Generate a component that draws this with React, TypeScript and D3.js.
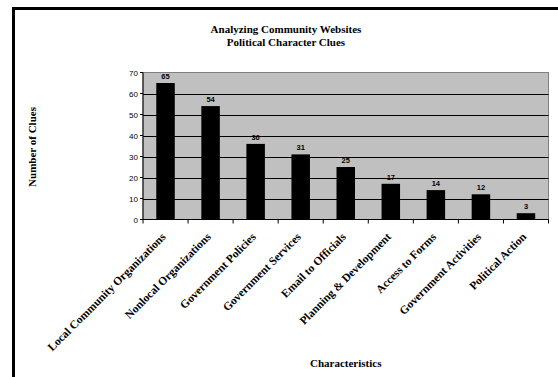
import React from "react";
import * as d3 from "d3";

const categories = [
  "Local Community Organizations",
  "Nonlocal Organizations",
  "Government Policies",
  "Government Services",
  "Email to Officials",
  "Planning & Development",
  "Access to Forms",
  "Government Activities",
  "Political Action",
];
const clues = [65, 54, 36, 31, 25, 17, 14, 12, 3];
const yTicks = [0, 10, 20, 30, 40, 50, 60, 70];
const titleLines = ["Analyzing Community Websites", "Political Character Clues"];

const W = 558;
const H = 377;
const plot = { left: 143, right: 548.5, top: 72.5, bottom: 219.5 };

const serif = "'Liberation Serif', 'Times New Roman', serif";
const sans = "'Liberation Sans', Arial, sans-serif";

export default function App() {
  const band = d3
    .scaleBand<string>()
    .domain(categories)
    .range([plot.left, plot.right])
    .padding(0);
  const step = band.step();
  const y = d3.scaleLinear().domain([0, 70]).range([plot.bottom, plot.top]);
  const barW = 18.5;
  const cx = (c: string) => (band(c) as number) + band.bandwidth() / 2;
  const cx0 = (plot.left + plot.right) / 2;

  return (
    <svg
      width={W}
      height={H}
      style={{ position: "absolute", left: 0, top: 0, background: "#fff" }}
    >
      {/* outer chart frame */}
      <rect x={13.5} y={8.5} width={W + 10} height={H + 10} fill="#fff" stroke="#000" strokeWidth={3} />

      {/* title */}
      {titleLines.map((t, i) => (
        <text
          key={t}
          x={286}
          y={33 + i * 13}
          textAnchor="middle"
          fontFamily={serif}
          fontWeight="bold"
          fontSize={11}
        >
          {t}
        </text>
      ))}

      {/* plot area */}
      <rect
        x={plot.left}
        y={plot.top}
        width={plot.right - plot.left}
        height={plot.bottom - plot.top}
        fill="#c0c0c0"
        stroke="#808080"
        strokeWidth={1}
      />
      {yTicks
        .filter((t) => t > 0 && t < 70)
        .map((t) => (
          <line
            key={t}
            x1={plot.left}
            x2={plot.right}
            y1={Math.round(y(t)) + 0.5}
            y2={Math.round(y(t)) + 0.5}
            stroke="#000"
            strokeWidth={1}
          />
        ))}

      {/* bars */}
      {categories.map((c, i) => (
        <rect
          key={c}
          x={cx(c) - barW / 2}
          y={y(clues[i])}
          width={barW}
          height={y(0) - y(clues[i])}
          fill="#000"
        />
      ))}

      {/* value labels */}
      {categories.map((c, i) => (
        <text
          key={c}
          x={cx(c)}
          y={y(clues[i]) - 4}
          textAnchor="middle"
          fontFamily={sans}
          fontWeight="bold"
          fontSize={7.5}
        >
          {clues[i]}
        </text>
      ))}

      {/* axes */}
      <line x1={plot.left} x2={plot.left} y1={plot.top} y2={plot.bottom} stroke="#000" />
      <line x1={plot.left} x2={plot.right} y1={plot.bottom} y2={plot.bottom} stroke="#000" />
      {yTicks.map((t) => (
        <g key={t}>
          <line x1={plot.left - 3} x2={plot.left} y1={y(t)} y2={y(t)} stroke="#000" />
          <text
            x={plot.left - 5}
            y={y(t) + 3}
            textAnchor="end"
            fontFamily={sans}
            fontSize={8}
          >
            {t}
          </text>
        </g>
      ))}
      {d3.range(categories.length + 1).map((k) => (
        <line
          key={k}
          x1={plot.left + k * step}
          x2={plot.left + k * step}
          y1={plot.bottom}
          y2={plot.bottom + 4}
          stroke="#000"
        />
      ))}

      {/* category labels */}
      {categories.map((c) => (
        <text
          key={c}
          transform={`translate(${cx(c) + 1},${plot.bottom + 18}) rotate(-45)`}
          textAnchor="end"
          fontFamily={serif}
          fontWeight="bold"
          fontSize={11.5}
        >
          {c}
        </text>
      ))}

      {/* axis titles */}
      <text
        transform={`translate(36,147) rotate(-90)`}
        textAnchor="middle"
        fontFamily={serif}
        fontWeight="bold"
        fontSize={11}
      >
        Number of Clues
      </text>
      <text
        x={cx0}
        y={367}
        textAnchor="middle"
        fontFamily={serif}
        fontWeight="bold"
        fontSize={11}
      >
        Characteristics
      </text>
    </svg>
  );
}
